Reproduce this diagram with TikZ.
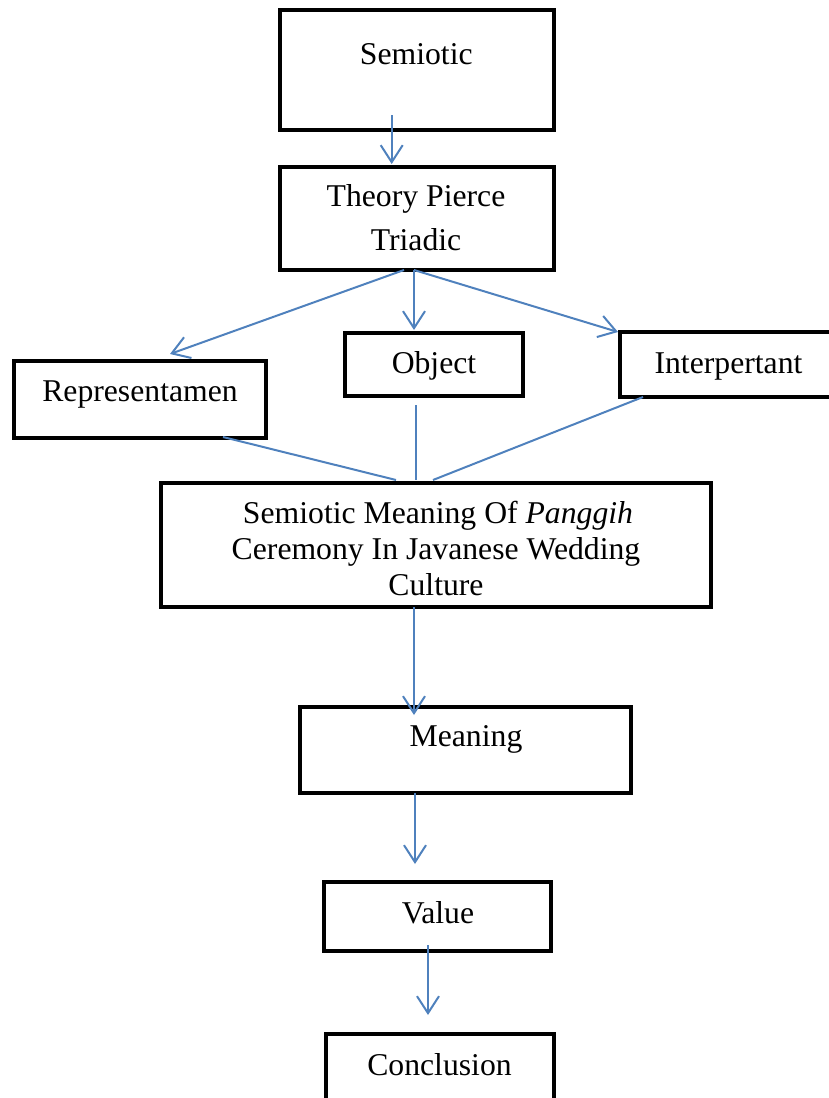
\documentclass[tikz,border=0pt]{standalone}
\usepackage{fontspec}
\setmainfont{Liberation Serif}
\usetikzlibrary{arrows.meta}
\definecolor{lineblue}{HTML}{4F81BD}
\begin{document}
\begin{tikzpicture}[x=1pt,y=-1pt,
  box/.style={draw=black,line width=4pt,inner sep=0pt,outer sep=0pt,fill=none},
  lbl/.style={anchor=base,inner sep=0pt,font=\fontsize{31.7}{36}\selectfont},
  conn/.style={draw=lineblue,line width=2pt},
  arr/.style={conn,-{Straight Barb[length=17pt,width=22pt,line width=2pt]}}]
\useasboundingbox (0,0) rectangle (828,1098);
% boxes
\node[box,minimum width=274pt,minimum height=120pt] (sem) at (416.5,69.5) {};
\node[box,minimum width=274pt,minimum height=103pt] (theory) at (416.5,218.5) {};
\node[box,minimum width=252pt,minimum height=77pt] (rep) at (140,399.5) {};
\node[box,minimum width=178pt,minimum height=63pt] (obj) at (434,364.5) {};
\node[box,minimum width=260pt,minimum height=65pt] (interp) at (750,364.5) {};
\node[box,minimum width=550pt,minimum height=124pt] (sm) at (436,545) {};
\node[box,minimum width=331pt,minimum height=86pt] (mean) at (465.5,750) {};
\node[box,minimum width=227pt,minimum height=68.5pt] (val) at (437.5,916.25) {};
\node[box,minimum width=228pt,minimum height=86pt] (conc) at (439.5,1077) {};
% texts
\node[lbl] (semt) at (416.3,64) {Semiotic};
\node[lbl] (theoryt1) at (416,206.7) {Theory Pierce};
\node[lbl] (theoryt2) at (416,250) {Triadic};
\node[lbl] (rept) at (140,401.7) {Representamen};
\node[lbl] (objt) at (434,373) {Object};
\node[lbl] (interpt) at (728.5,373) {Interpertant};
\node[lbl] (smt1) at (438,523.3) {Semiotic Meaning Of \textit{Panggih}};
\node[lbl] (smt2) at (436,559.3) {Ceremony In Javanese Wedding};
\node[lbl] (smt3) at (436,595.3) {Culture};
\node[lbl] (meant) at (466,746.7) {Meaning};
\node[lbl] (valt) at (438,923.3) {Value};
\node[lbl] (conct) at (439.5,1075) {Conclusion};
% connectors
\draw[arr] ([xshift=-24.8pt,yshift=14.5pt]sem.south) -- ([xshift=-24.8pt,yshift=3pt]theory.north);
\draw[arr] ([xshift=-12.5pt]theory.south) -- ([xshift=30pt,yshift=7pt]rep.north);
\draw[arr] ([xshift=-2.5pt]theory.south) -- ([xshift=-20pt,yshift=3pt]obj.north);
\draw[arr] ([xshift=-2.5pt]theory.south) -- ([xshift=-2pt]interp.north west);
\draw[conn] ([xshift=83pt,yshift=1pt]rep.south) -- ([xshift=-40pt,yshift=3pt]sm.north);
\draw[conn] ([xshift=-18pt,yshift=-9pt]obj.south) -- ([xshift=-20pt,yshift=3pt]sm.north);
\draw[conn] ([xshift=23pt]interp.south west) -- ([xshift=-3pt,yshift=3pt]sm.north);
\draw[arr] ([xshift=-22pt]sm.south) -- ([xshift=-51.5pt,yshift=-8pt]mean.north);
\draw[arr] ([xshift=-50.5pt]mean.south) -- ([xshift=-22.5pt,yshift=18pt]val.north);
\draw[arr] ([xshift=-9.5pt,yshift=5.5pt]val.south) -- ([xshift=-11.5pt,yshift=19pt]conc.north);
\end{tikzpicture}
\end{document}
